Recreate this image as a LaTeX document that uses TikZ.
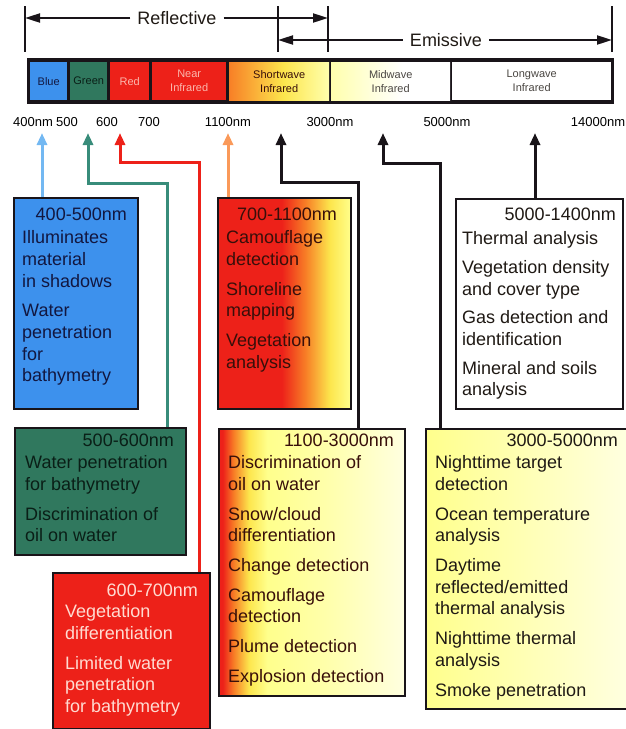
\documentclass[tikz,border=0pt]{standalone}
\usepackage{fontspec}
\setmainfont{Liberation Sans}
\usetikzlibrary{arrows.meta}
\definecolor{cBlue}{rgb}{0.24,0.57,0.93}
\definecolor{cBlueLine}{rgb}{0.45,0.72,0.95}
\definecolor{cGreen}{rgb}{0.19,0.47,0.37}
\definecolor{cTeal}{rgb}{0.22,0.55,0.48}
\definecolor{cRed}{rgb}{0.93,0.13,0.1}
\definecolor{cOrg}{rgb}{0.97,0.5,0.15}
\definecolor{cOrgLine}{rgb}{0.98,0.6,0.35}
\definecolor{cYel}{rgb}{0.99,0.9,0.3}
\definecolor{cLY}{rgb}{1,1,0.55}
\definecolor{cCream}{rgb}{1,1,0.88}
\definecolor{cPale}{rgb}{1,1,0.68}
\definecolor{cBorder}{rgb}{0.1,0.08,0.1}
\definecolor{cNavy}{rgb}{0.07,0.09,0.25}
\definecolor{cDkGreen}{rgb}{0.04,0.12,0.09}
\definecolor{cPink}{rgb}{1,0.86,0.82}
\definecolor{cBrown}{rgb}{0.22,0.06,0.04}
\definecolor{cInk}{rgb}{0.12,0.1,0.08}
\pgfdeclarehorizontalshading{shNIR}{100bp}{color(0bp)=(cRed); color(25bp)=(cRed); color(49bp)=(cRed); color(58bp)=(cOrg); color(67bp)=(cYel); color(75bp)=(cLY); color(100bp)=(cLY)}
\pgfdeclarehorizontalshading{shSWIR}{100bp}{color(0bp)=(cRed); color(25bp)=(cRed); color(26bp)=(cRed); color(29bp)=(cOrg); color(33bp)=(cYel); color(38bp)=(cLY); color(55bp)=(cPale); color(75bp)=(cCream); color(100bp)=(cCream)}
\pgfdeclarehorizontalshading{shMWIR}{100bp}{color(0bp)=(cLY); color(25bp)=(cLY); color(75bp)=(cCream); color(100bp)=(cCream)}
\pgfdeclarehorizontalshading{shBarSW}{100bp}{color(0bp)=(cOrg); color(25bp)=(cOrg); color(52bp)=(cYel); color(75bp)=(cPale); color(100bp)=(cPale)}
\pgfdeclarehorizontalshading{shBarMW}{100bp}{color(0bp)=(cPale); color(25bp)=(cPale); color(55bp)=(white); color(100bp)=(white)}
\begin{document}
\begin{tikzpicture}[x=1pt,y=-1pt,
  boxfont/.style={font=\fontsize{18}{21.7}\selectfont},
  infobox/.style={draw=cBorder,line width=2pt,anchor=north west,inner sep=0pt},
  boxtext/.style={boxfont,align=left,anchor=north west,inner sep=0pt},
  boxhead/.style={boxfont,anchor=north east,inner sep=0pt},
  seg/.style={anchor=north west,inner sep=0pt,align=center,font=\fontsize{11}{14}\selectfont,minimum height=38pt},
  tick/.style={font=\fontsize{13}{15}\selectfont,inner sep=0pt},
  conn/.style={line width=3pt,line join=miter,-{Triangle[length=12pt,width=10pt]}},
  brk/.style={line width=2pt,cBorder},
  brkarrow/.style={line width=2pt,cBorder,-{Triangle[length=15pt,width=9pt]}},
  hdr/.style={font=\fontsize{18}{20}\selectfont,inner xsep=7pt,inner ysep=0pt,text=cInk},
]
\useasboundingbox (0,0) rectangle (625,729);
% brackets
\coordinate (v1t) at (25,6);  \coordinate (v1b) at (25,52);
\coordinate (v2t) at (278,6); \coordinate (v2b) at (278,52);
\coordinate (v3t) at (328,6); \coordinate (v3b) at (328,52);
\coordinate (v4t) at (612,6); \coordinate (v4b) at (612,52);
\draw[brk] (v1t) -- (v1b);
\draw[brk] (v2t) -- (v2b);
\draw[brk] (v3t) -- (v3b);
\draw[brk] (v4t) -- (v4b);
\node[hdr] (refl) at (177,18) {Reflective};
\draw[brkarrow] (refl.west) -- (refl.west -| v1t);
\draw[brkarrow] (refl.east) -- (refl.east -| v3t);
\node[hdr] (emis) at (446,40) {Emissive};
\draw[brkarrow] (emis.west) -- (emis.west -| v2t);
\draw[brkarrow] (emis.east) -- (emis.east -| v4t);
% spectrum bar
\node[anchor=north west,fill=cBorder,minimum width=587pt,minimum height=46pt,inner sep=0pt] (bar) at (27,58) {};
\node[seg,fill=cBlue,minimum width=37pt,text=cNavy] (sB) at (30,62) {Blue};
\node[seg,fill=cGreen,minimum width=37pt,text=cDkGreen] (sG) at (70,62) {Green};
\node[seg,fill=cRed,minimum width=39pt,text=cPink!80!cRed] (sR) at (110,62) {Red};
\node[seg,fill=cRed,minimum width=74pt,text=cPink!80!cRed] (sN) at (152,62) {Near\\Infrared};
\node[seg,shade,shading=shBarSW,minimum width=100pt,text=cBrown] (sS) at (229,62) {Shortwave\\Infrared};
\node[seg,shade,shading=shBarMW,minimum width=119pt,text=cInk!80] (sM) at (331,62) {Midwave\\Infrared};
\node[seg,fill=white,minimum width=159pt,text=cInk!80] (sL) at (452,62) {Longwave\\Infrared};
% tick labels
\node[tick] (t400) at (33,122) {400nm};
\node[tick] (t500) at (67,122) {500};
\node[tick] (t600) at (107,122) {600};
\node[tick] (t700) at (149,122) {700};
\node[tick] (t1100) at (228,122) {1100nm};
\node[tick] (t3000) at (330,122) {3000nm};
\node[tick] (t5000) at (447,122) {5000nm};
\node[tick] (t14000) at (598,122) {14000nm};
% boxes
\node[infobox,fill=cBlue,minimum width=124pt,minimum height=211pt] (b1) at (13,197) {};
\node[infobox,shade,shading=shNIR,minimum width=133pt,minimum height=211pt] (b2) at (217,197) {};
\node[infobox,fill=white,minimum width=167pt,minimum height=210pt] (b3) at (455,198) {};
\node[infobox,fill=cGreen,minimum width=171pt,minimum height=127pt] (b4) at (14,427) {};
\node[infobox,fill=cRed,minimum width=157pt,minimum height=156pt] (b5) at (52,572) {};
\node[infobox,shade,shading=shSWIR,minimum width=186pt,minimum height=267pt] (b6) at (218,428) {};
\node[infobox,shade,shading=shMWIR,minimum width=203pt,minimum height=280pt] (b7) at (425,428) {};
% connectors
\coordinate (pB) at (42,133);
\coordinate (kG) at (167,183); \coordinate (pG) at (88,133);
\coordinate (kR) at (199,162); \coordinate (pR) at (120,133);
\coordinate (pO) at (228,133);
\coordinate (kS) at (358,182); \coordinate (pS) at (281,133);
\coordinate (kM) at (440,163); \coordinate (pM) at (383,133);
\coordinate (pL) at (535,133);
\draw[conn,cBlueLine] (b1.north -| pB) -- (pB);
\draw[conn,cTeal] (b4.north -| kG) -- (kG) -| (pG);
\draw[conn,cRed] (b5.north -| kR) -- (kR) -| (pR);
\draw[conn,cOrgLine] (b2.north -| pO) -- (pO);
\draw[conn,cBorder] (b6.north -| kS) -- (kS) -| (pS);
\draw[conn,cBorder] (b7.north -| kM) -- (kM) -| (pM);
\draw[conn,cBorder] (b3.north -| pL) -- (pL);
% box texts
\node[boxhead,text=cNavy] (h1) at (127,207.5) {400-500nm};
\node[boxtext,text=cNavy] (x1) at (22,230.5) {Illuminates\\material\\in shadows\\[8pt]Water\\penetration\\for\\bathymetry};
\node[boxhead,text=cBrown] (h2) at (337,207.5) {700-1100nm};
\node[boxtext,text=cBrown] (x2) at (226,230.5) {Camouflage\\detection\\[8pt]Shoreline\\mapping\\[8pt]Vegetation\\analysis};
\node[boxhead,text=cInk] (h3) at (616,207.5) {5000-1400nm};
\node[boxtext,text=cInk] (x3) at (462,231.5) {Thermal analysis\\[7pt]Vegetation density\\and cover type\\[7pt]Gas detection and\\identification\\[7pt]Mineral and soils\\analysis};
\node[boxhead,text=cDkGreen] (h4) at (174,433.5) {500-600nm};
\node[boxtext,text=cDkGreen] (x4) at (25,455.5) {Water penetration\\for bathymetry\\[8pt]Discrimination of\\oil on water};
\node[boxhead,text=cPink] (h5) at (198,583.5) {600-700nm};
\node[boxtext,text=cPink] (x5) at (65,604.5) {Vegetation\\differentiation\\[8pt]Limited water\\penetration\\for bathymetry};
\node[boxhead,text=cBrown] (h6) at (394,433.5) {1100-3000nm};
\node[boxtext,text=cBrown] (x6) at (228,455.5) {Discrimination of\\oil on water\\[8pt]Snow/cloud\\differentiation\\[8pt]Change detection\\[8pt]Camouflage\\detection\\[8pt]Plume detection\\[8pt]Explosion detection};
\node[boxhead,text=cInk] (h7) at (618,433.5) {3000-5000nm};
\node[boxtext,text=cInk] (x7) at (435,455.5) {Nighttime target\\detection\\[8pt]Ocean temperature\\analysis\\[8pt]Daytime\\reflected/emitted\\thermal analysis\\[8pt]Nighttime thermal\\analysis\\[8pt]Smoke penetration};
\end{tikzpicture}
\end{document}
